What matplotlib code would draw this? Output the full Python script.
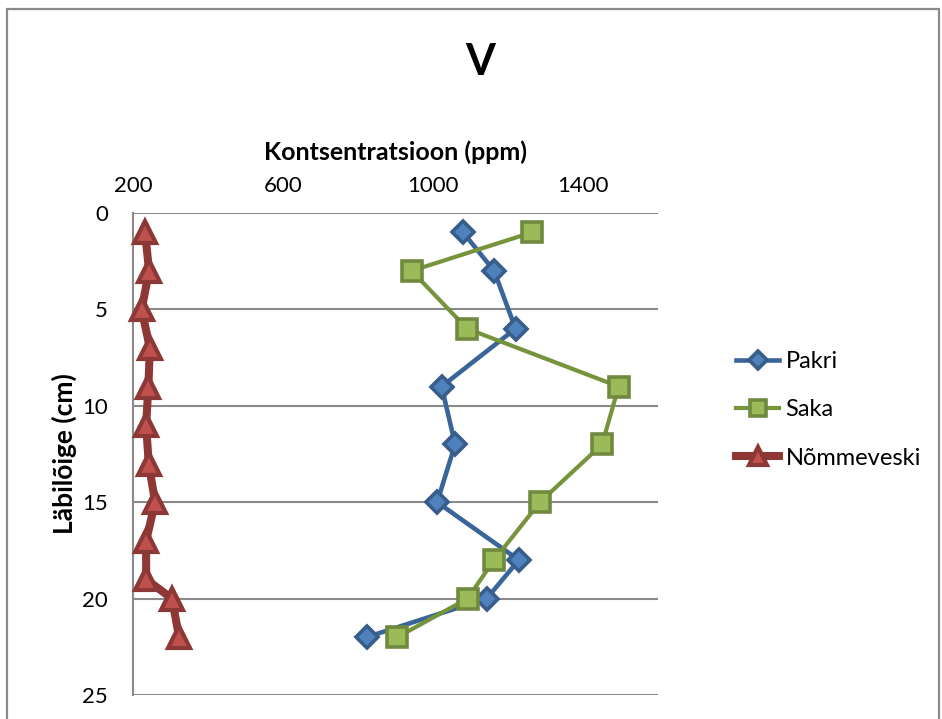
import matplotlib
matplotlib.use("Agg")
import matplotlib.pyplot as plt
from matplotlib.patches import Rectangle

plt.rcParams['font.family'] = ['Lato', 'DejaVu Sans']

# Data
pakri_depth = [1, 3, 6, 9, 12, 15, 18, 20, 22]
pakri_vals = [1080, 1163, 1220, 1023, 1059, 1011, 1229, 1143, 823]
saka_depth = [1, 3, 6, 9, 12, 15, 18, 20, 22]
saka_vals = [1265, 943, 1091, 1495, 1451, 1285, 1163, 1092, 905]
nomme_depth = [1, 3, 5, 7, 9, 11, 13, 15, 17, 19, 20, 22]
nomme_vals = [232, 243, 223, 245, 241, 235, 242, 259, 235, 235, 304, 323]

x_ticks = [200, 600, 1000, 1400]
y_ticks = [0, 5, 10, 15, 20, 25]

W, H = 942, 719
fig = plt.figure(figsize=(W / 100, H / 100), dpi=100)

# chart border
fig.patches.append(Rectangle((6.5 / W, -0.05), (939 - 6.5) / W, 1.05 - 8.5 / H,
                             transform=fig.transFigure, fill=False,
                             edgecolor='#8a8a8a', linewidth=1.6))

L, R, T, B = 133, 658, 213, 695
ax = fig.add_axes([L / W, (H - B) / H, (R - L) / W, (B - T) / H])

ax.set_xlim(200, 1600)
ax.set_ylim(25, 0)
ax.set_xticks(x_ticks)
ax.set_yticks(y_ticks)
ax.xaxis.tick_top()
ax.xaxis.set_label_position('top')
ax.tick_params(axis='both', length=0, labelsize=16, colors='black')
ax.tick_params(axis='x', pad=12)
ax.tick_params(axis='y', pad=18)

ax.grid(axis='y', color='#8a8a8a', linewidth=1.5)
ax.set_axisbelow(True)
for s in ['right', 'bottom', 'top']:
    ax.spines[s].set_visible(False)
ax.spines['left'].set_color('#8a8a8a')
ax.spines['left'].set_linewidth(1.5)

ax.plot(pakri_vals, pakri_depth, color='#3A6599', linewidth=3.3, marker='D',
        markersize=11.5, markerfacecolor='#4F81BD', markeredgecolor='#385D8A',
        markeredgewidth=2.6, label='Pakri', clip_on=False, zorder=3)
ax.plot(saka_vals, saka_depth, color='#77933C', linewidth=3.0, marker='s',
        markersize=14, markerfacecolor='#9BBB59', markeredgecolor='#71893F',
        markeredgewidth=2.6, label='Saka', clip_on=False, zorder=4)
ax.plot(nomme_vals, nomme_depth, color='#8E3735', linewidth=5.8, marker='^',
        markersize=16.5, markerfacecolor='#C0504D', markeredgecolor='#8C3836',
        markeredgewidth=3, label='Nõmmeveski', clip_on=False, zorder=5)

ax.set_xlabel('Kontsentratsioon (ppm)', fontsize=18, fontweight='bold', labelpad=12)
ax.set_ylabel('Läbilõige (cm)', fontsize=19, fontweight='bold', labelpad=4)

fig.text(480 / W, 1 - 62 / H, 'V', fontsize=31, fontweight='bold',
         ha='center', va='center')

leg = ax.legend(loc='center left', bbox_to_anchor=(724 / W, 1 - 410 / H),
                bbox_transform=fig.transFigure, frameon=False, fontsize=17,
                handlelength=1.85, handletextpad=0.25, labelspacing=1.15,
                borderpad=0, markerscale=0.8)

fig.savefig('out.png', dpi=100)
